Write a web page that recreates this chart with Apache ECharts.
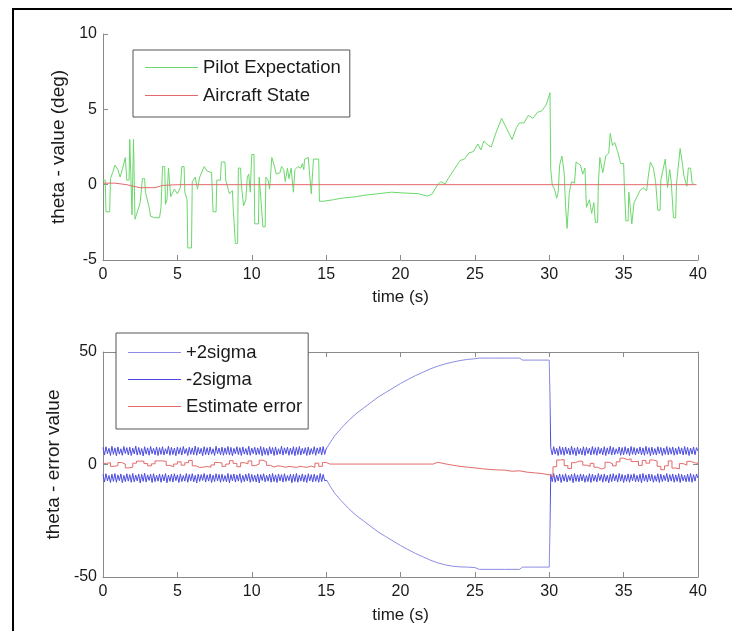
<!DOCTYPE html>
<html>
<head>
<meta charset="utf-8">
<script src="https://cdn.jsdelivr.net/npm/echarts@6/dist/echarts.min.js"></script>
<style>
html, body { margin: 0; padding: 0; background: #fff; }
#chart { width: 732px; height: 631px; }
</style>
</head>
<body>
<div id="chart"></div>
<script>
// ---- top plot: theta value ----
var pilotT = [0, 0.15, 0.2, 0.45, 0.5, 0.65, 0.8, 1.0, 1.15, 1.3, 1.5, 1.6, 1.75, 1.8, 1.9, 1.95, 2.05, 2.12, 2.15, 2.5,
  2.65, 2.8, 2.85, 3.1, 3.2, 3.5, 3.8, 3.9, 4.0, 4.15, 4.2, 4.3, 4.4, 4.5, 4.55, 4.8, 5.0, 5.2, 5.3, 5.45,
  5.5, 5.65, 5.7, 5.95, 6.0, 6.2, 6.35, 6.5, 6.8, 7.0, 7.3, 7.4, 7.6, 7.65, 7.9, 7.95, 8.2, 8.25, 8.5, 8.7,
  8.75, 8.9, 9.05, 9.1, 9.25, 9.3, 9.45, 9.6, 9.7, 9.8, 9.9, 10.0, 10.15, 10.2, 10.45, 10.5, 10.6, 10.75, 10.9, 10.95,
  11.1, 11.2, 11.35, 11.5, 11.6, 11.65, 11.9, 12.0, 12.15, 12.25, 12.4, 12.5, 12.65, 12.8, 12.9, 13.0, 13.1, 13.3, 13.4, 13.5,
  13.55, 13.8, 13.9, 14.0, 14.1, 14.15, 14.5, 14.55, 14.8, 15.5, 16.0, 17.0, 17.6, 18.5, 19.4, 20.2, 21.2, 21.8, 22.1, 22.5,
  22.7, 23.0, 23.2, 23.6, 24.0, 24.3, 24.6, 24.9, 25.2, 25.4, 25.6, 25.9, 26.1, 26.4, 26.8, 27.1, 27.5, 27.8, 28.0, 28.3,
  28.6, 28.9, 29.2, 29.5, 29.8, 30.05, 30.1, 30.2, 30.35, 30.5, 30.6, 30.7, 30.85, 31.0, 31.1, 31.2, 31.35, 31.5, 31.7, 31.8,
  31.95, 32.1, 32.25, 32.4, 32.5, 32.7, 32.85, 33.0, 33.1, 33.25, 33.3, 33.4, 33.6, 33.8, 34.0, 34.1, 34.25, 34.4, 34.6, 34.8,
  35.0, 35.05, 35.15, 35.3, 35.35, 35.55, 35.7, 35.9, 36.1, 36.3, 36.55, 36.65, 36.8, 37.0, 37.15, 37.3, 37.45, 37.5, 37.8, 37.95,
  38.1, 38.2, 38.35, 38.5, 38.55, 38.8, 38.95, 39.05, 39.25, 39.35, 39.5, 39.6, 39.7];
var pilotV = [0.3, 0.3, -1.8, -1.8, 0.4, 0.8, 1.3, 1.0, 0.5, 1.0, 1.8, 0.3, 0.3, 3.0, 3.0, -2.0, 3.0, 3.0, -2.3, -1.2,
  0.4, 0.4, -0.5, -1.5, -2.1, -2.2, -2.2, -1.5, 1.2, 1.2, -1.3, -1.0, 1.1, 1.1, -0.8, -0.3, -0.6, -0.2, 1.2, 1.2,
  -0.5, -1.0, -4.2, -4.2, 0.2, 0.5, -0.3, 0.5, 1.2, 0.9, 0.8, -1.8, -1.8, 0.3, 0.3, 1.5, 1.5, 0.3, -0.6, -0.4,
  -1.5, -3.9, -3.9, 1.1, 1.1, 0.0, -1.4, -1.0, 0.5, 0.7, -0.5, 2.0, 2.0, -2.6, -2.6, 0.5, -0.8, -2.8, -2.8, 0.5,
  0.3, -0.3, 1.8, 1.3, 1.3, 0.7, 0.8, 1.2, 1.0, 0.2, 1.1, 0.4, 1.1, -0.5, 1.0, 0.9, 1.2, 1.1, 1.4, 1.0,
  1.7, 1.8, 1.8, -0.6, -0.6, 1.7, 1.7, -1.1, -1.1, -1.0, -0.9, -0.8, -0.7, -0.6, -0.5, -0.55, -0.6, -0.75, -0.65, 0.0,
  0.2, 0.05, 0.4, 1.0, 1.6, 1.7, 2.1, 2.2, 2.7, 2.3, 2.9, 2.6, 2.5, 3.4, 4.4, 3.8, 3.0, 3.8, 4.1, 4.1,
  4.6, 4.4, 4.8, 4.9, 5.3, 6.1, 1.0, 0.0, -0.3, -0.9, -0.5, 1.3, 1.9, 0.8, -1.5, -2.9, -0.5, 0.2, 0.1, 1.5,
  1.4, 1.3, 0.7, 1.1, -1.5, -1.0, -1.9, -1.2, -2.5, -2.5, 0.0, 1.8, 0.8, 1.9, 2.1, 3.4, 2.6, 2.8, 2.2, 1.4,
  1.4, -0.1, -2.4, -2.4, -0.5, -2.6, -1.2, -0.8, -0.4, -0.2, -0.4, 0.5, 1.5, 1.1, 0.2, -1.7, -1.7, 0.3, 1.7, -0.2,
  1.0, 0.2, -2.2, -2.2, 0.0, 2.4, 1.4, 0.6, -0.1, 1.1, 1.1, 0.1, 0.1];
var aircraftT = [0, 0.8, 1.6, 2.0, 2.5, 3.5, 4.0, 5.0, 39.9];
var aircraftV = [0.1, 0.1, 0.0, -0.1, -0.2, -0.2, -0.05, 0, 0];

// ---- bottom plot: theta error ----
var bandStep = 0.1;   // sampling of the +-2sigma bands
var sigUpA = [ // 0 .. 15 s
  7.6,4.2,7.9,4.8,7.2,4.0,8.1,4.5,7.4,3.9, 7.8,4.6,7.0,4.1,8.0,4.9,7.5,4.3,7.7,4.0,
  7.3,4.7,8.2,4.2,7.6,4.4,7.1,3.8,7.9,4.6, 7.4,4.1,8.0,4.8,7.2,4.3,7.8,4.0,7.5,4.5,
  7.9,4.2,7.0,4.7,8.1,4.1,7.6,4.4,7.3,3.9, 7.8,4.6,7.5,4.2,8.0,4.8,7.1,4.0,7.7,4.5,
  7.4,4.3,8.2,4.1,7.6,4.7,7.2,3.9,7.9,4.4, 7.5,4.2,7.8,4.6,7.0,4.0,8.1,4.8,7.3,4.3,
  7.7,4.1,7.4,4.5,8.0,4.2,7.6,3.9,7.2,4.7, 7.9,4.4,7.5,4.0,7.8,4.6,7.1,4.3,8.1,4.1,
  7.3,4.8,7.7,4.2,7.4,4.5,8.0,3.9,7.6,4.4, 7.2,4.1,7.9,4.7,7.5,4.0,7.8,4.3,7.0,4.6,
  8.1,4.2,7.4,4.8,7.7,4.1,7.3,4.5,7.9,3.9, 7.6,4.4,8.0,4.2,7.2,4.7,7.5,4.0,7.8,4.3,
  7.1,4.6,7.9,4.1,7.4,4.8,7.7,4.2,8.0,4.5, 6.9];
var sigLoA = [
  -4.4,-7.8,-4.1,-7.3,-4.9,-8.0,-4.3,-7.5,-4.0,-7.9, -4.6,-7.2,-4.2,-8.1,-4.8,-7.6,-4.1,-7.4,-4.5,-7.9,
  -4.0,-7.7,-4.7,-7.3,-4.2,-8.2,-4.4,-7.5,-3.9,-7.8, -4.6,-7.1,-4.3,-8.0,-4.1,-7.6,-4.8,-7.4,-4.2,-7.9,
  -4.5,-7.3,-4.0,-8.1,-4.7,-7.5,-4.3,-7.8,-4.1,-7.2, -4.6,-8.0,-4.2,-7.6,-4.9,-7.4,-4.0,-7.9,-4.4,-7.3,
  -4.1,-7.7,-4.8,-8.2,-4.3,-7.5,-4.5,-7.1,-4.0,-7.8, -4.6,-7.4,-4.2,-8.0,-4.7,-7.6,-4.1,-7.3,-4.4,-7.9,
  -4.3,-7.5,-4.9,-7.7,-4.0,-8.1,-4.5,-7.2,-4.2,-7.8, -4.6,-7.4,-4.1,-8.0,-4.8,-7.6,-4.3,-7.3,-4.0,-7.9,
  -4.4,-7.5,-4.7,-7.8,-4.2,-8.2,-4.5,-7.1,-4.1,-7.7, -4.8,-7.4,-4.3,-7.9,-4.0,-7.6,-4.6,-8.0,-4.2,-7.3,
  -4.5,-7.8,-4.1,-7.5,-4.9,-7.2,-4.3,-8.1,-4.4,-7.6, -4.0,-7.9,-4.7,-7.4,-4.2,-7.7,-4.6,-8.0,-4.1,-7.3,
  -4.5,-7.8,-4.3,-7.5,-4.8,-7.9,-4.0,-7.6,-4.4,-7.2, -6.8];
var curveT  = [15.05,15.3,15.6,16,16.5,17,17.5,18,18.5,19, 19.5,20,20.5,21,21.5,22,22.5,23,23.5,24,
  24.5,25,25.3,26,27,28,28.2,29,30,30.05];
var curveUp = [7,10,13,16,19.5,22.5,25,27.5,30,32, 34,36,37.8,39.5,41,42.5,43.7,44.7,45.5,46.2,
  46.7,47,47.3,47.3,47.3,47.3,46.4,46.4,46.4,46.4];
var curveLo = [-7,-10,-13,-16,-19.5,-22.5,-25,-27.5,-30,-32, -34,-36,-37.8,-39.5,-41,-42.5,-43.7,-44.6,-45.2,-45.5,
  -45.6,-45.8,-46.6,-46.6,-46.6,-46.6,-45.6,-45.6,-45.6,-45.6];
var sigUpB = [ // 30.1 .. 40 s
  7.5,4.3,7.9,4.6,7.2,4.0,8.0,4.4,7.6,4.1, 7.8,4.7,7.3,4.2,8.1,4.5,7.4,3.9,7.7,4.6,
  7.1,4.3,7.9,4.0,7.6,4.8,7.3,4.2,8.0,4.5, 7.5,4.1,7.8,4.7,7.2,4.3,7.9,4.0,7.4,4.6,
  8.1,4.2,7.6,4.4,7.0,4.8,7.8,4.1,7.5,4.3, 7.9,4.6,7.3,4.0,8.0,4.5,7.6,4.2,7.2,4.7,
  7.8,4.3,7.4,4.1,8.1,4.6,7.5,3.9,7.7,4.4, 7.1,4.2,7.9,4.8,7.6,4.0,7.3,4.5,8.0,4.3,
  7.5,4.6,7.8,4.1,7.2,4.4,7.9,4.7,7.4,4.2, 8.0,4.5,7.6,4.0,7.3,4.6,7.8,4.3,7.5,6.0];
var sigLoB = [
  -4.3,-7.6,-4.0,-7.9,-4.7,-7.3,-4.2,-8.0,-4.5,-7.4, -4.1,-7.8,-4.8,-7.2,-4.3,-8.1,-4.0,-7.5,-4.6,-7.7,
  -4.2,-7.3,-4.4,-7.9,-4.9,-7.6,-4.1,-8.0,-4.3,-7.4, -4.7,-7.8,-4.0,-7.2,-4.5,-7.9,-4.2,-7.5,-4.8,-8.1,
  -4.3,-7.6,-4.1,-7.3,-4.6,-7.8,-4.0,-7.4,-4.4,-8.0, -4.7,-7.5,-4.2,-7.9,-4.5,-7.2,-4.1,-7.7,-4.8,-7.6,
  -4.3,-8.1,-4.0,-7.4,-4.6,-7.8,-4.2,-7.3,-4.4,-7.9, -4.9,-7.5,-4.1,-8.0,-4.3,-7.6,-4.7,-7.2,-4.0,-7.8,
  -4.5,-7.4,-4.2,-7.9,-4.6,-7.5,-4.1,-8.0,-4.4,-7.3, -4.8,-7.7,-4.3,-7.6,-4.0,-7.9,-4.5,-7.4,-4.2,-6.0];

var errStep = 0.25;
var errA = [ // 0 .. 15 s
  0.5,0.8,-0.8,-0.5,0.9,0.2,-1.5,-1.2,0.6,1.5, 1.5,0.4,-0.6,0.3,1.6,1.6,1.4,-0.4,-1.0,0.2,
  1.2,-0.3,0.8,1.8,-0.6,-1.3,-1.2,-0.9,-1.2,-0.2, 0.9,0.7,-0.8,0.2,1.7,0.5,-1.0,0.8,0.3,1.6,
  -0.5,0.2,1.9,1.2,-0.4,-1.1,-0.6,-0.8,-1.2,-0.9, -1.0,-1.3,-0.8,-1.1,-1.2,-0.7,-1.3,0.6,-0.8,0.9, 0.2];
var errMidT = [15.25,22,22.2,22.5,23,23.5,24,24.5,25,25.5,26,26.5,27,27.5,28,28.5,29,29.5,30];
var errMidV = [0.2,0.2,1.0,0.3,-0.3,-0.8,-1.2,-1.5,-1.9,-2.2,-2.4,-2.5,-3.0,-2.8,-3.4,-3.7,-4.0,-4.6,-5.4];
var errB = [ // 30.25 .. 40 s
  -1.0,2.0,2.2,-0.5,-1.8,0.8,1.5,1.4,-0.3,-0.8, 0.5,-1.2,-2.0,-1.5,1.0,0.4,-0.6,1.2,2.8,2.2,
  2.5,1.3,1.4,-0.4,1.8,0.6,2.0,1.5,-0.8,-2.3, -0.6,1.6,-1.6,-1.9,0.4,-0.3,1.4,0.8,0.5,0.9];

function pairs(ts, vs) {
  return ts.map(function (t, i) { return [t, vs[i]]; });
}
function sampled(t0, dt, vs) {
  return vs.map(function (v, i) { return [Math.round((t0 + i * dt) * 100) / 100, v]; });
}

var font = "'Liberation Sans', Arial, sans-serif";
var axisCol = "#8a8a8a";
var textCol = "#1a1a1a";
var green = "#6bd86b";
var red = "#e46a6a";
var bandBlue = "#4a4ae0";
var curveBlue = "#8c8ce4";

function xAxis(grid, opt) {
  var ax = {
    gridIndex: grid, type: "value", min: 0, max: 40, interval: 5,
    axisLine: { show: true, onZero: false, lineStyle: { color: axisCol, width: 1 } },
    axisTick: { show: true, inside: true, length: 5, lineStyle: { color: axisCol } },
    axisLabel: { color: textCol, fontSize: 16, fontFamily: font, margin: 7 },
    splitLine: { show: false }
  };
  return Object.assign(ax, opt);
}
function yAxis(grid, opt) {
  var ax = {
    gridIndex: grid, type: "value",
    axisLine: { show: true, onZero: false, lineStyle: { color: axisCol, width: 1 } },
    axisTick: { show: true, inside: true, length: 5, lineStyle: { color: axisCol } },
    axisLabel: { color: textCol, fontSize: 16, fontFamily: font, margin: 6 },
    splitLine: { show: false }
  };
  return Object.assign(ax, opt);
}
var xNameStyle = { color: textCol, fontSize: 17, fontFamily: font };
var yNameStyle = { color: textCol, fontSize: 19, fontFamily: font };
var legendText = { color: textCol, fontSize: 18.5, fontFamily: font, lineHeight: 19 };

var chart = echarts.init(document.getElementById("chart"));
chart.setOption({
  backgroundColor: "#fff",
  animation: false,
  grid: [
    { left: 103, right: 34, top: 34, height: 226 },
    { left: 103, right: 34, top: 352, height: 225 }
  ],
  xAxis: [
    xAxis(0, { name: "time (s)", nameLocation: "middle", nameGap: 29, nameTextStyle: xNameStyle }),
    xAxis(1, { name: "time (s)", nameLocation: "middle", nameGap: 30, nameTextStyle: xNameStyle }),
    xAxis(1, { position: "top", axisLabel: { show: false } })
  ],
  yAxis: [
    yAxis(0, { min: -5, max: 10, interval: 5, name: "theta - value (deg)", nameLocation: "middle",
      nameGap: 33, nameTextStyle: yNameStyle }),
    yAxis(1, { min: -50, max: 50, interval: 50, name: "theta - error value", nameLocation: "middle",
      nameGap: 36, nameTextStyle: yNameStyle }),
    yAxis(1, { min: -50, max: 50, interval: 50, position: "right", axisLabel: { show: false } })
  ],
  // the sigma bounds are drawn lighter where they are a smooth curve (15 s - 30 s)
  visualMap: {
    show: false, type: "piecewise", dimension: 0, seriesIndex: [2, 3],
    pieces: [
      { lt: 15.05, color: bandBlue },
      { gte: 15.05, lte: 30.06, color: curveBlue },
      { gt: 30.06, color: bandBlue }
    ]
  },
  legend: [
    {
      data: [
        { name: "Pilot Expectation", itemStyle: { color: green } },
        { name: "Aircraft State", itemStyle: { color: red } }
      ],
      orient: "vertical", left: 133, top: 50, selectedMode: false,
      icon: "rect", padding: [8, 9, 12, 12], itemGap: 9, itemWidth: 53, itemHeight: 1,
      borderColor: "#555", borderWidth: 1, backgroundColor: "#fff",
      textStyle: legendText
    },
    {
      data: [
        { name: "+2sigma", itemStyle: { color: curveBlue } },
        { name: "-2sigma", itemStyle: { color: bandBlue } },
        { name: "Estimate error", itemStyle: { color: red } }
      ],
      orient: "vertical", left: 116, top: 333, selectedMode: false,
      icon: "rect", padding: [10, 6, 13, 12], itemGap: 8, itemWidth: 53, itemHeight: 1,
      borderColor: "#555", borderWidth: 1, backgroundColor: "#fff",
      textStyle: legendText
    }
  ],
  graphic: [
    { type: "line", shape: { x1: 13, y1: 8, x2: 13, y2: 631 }, style: { stroke: "#000", lineWidth: 2 } },
    { type: "line", shape: { x1: 12, y1: 9, x2: 732, y2: 9 }, style: { stroke: "#000", lineWidth: 2 } }
  ],
  series: [
    {
      name: "Pilot Expectation", type: "line", xAxisIndex: 0, yAxisIndex: 0,
      symbol: "none", color: green, lineStyle: { width: 1 },
      data: pairs(pilotT, pilotV)
    },
    {
      name: "Aircraft State", type: "line", xAxisIndex: 0, yAxisIndex: 0,
      symbol: "none", color: red, lineStyle: { width: 1 },
      data: pairs(aircraftT, aircraftV)
    },
    {
      name: "+2sigma", type: "line", xAxisIndex: 1, yAxisIndex: 1,
      symbol: "none", color: curveBlue, lineStyle: { width: 1 },
      data: sampled(0, bandStep, sigUpA).concat(pairs(curveT, curveUp), sampled(30.1, bandStep, sigUpB))
    },
    {
      name: "-2sigma", type: "line", xAxisIndex: 1, yAxisIndex: 1,
      symbol: "none", color: bandBlue, lineStyle: { width: 1 },
      data: sampled(0, bandStep, sigLoA).concat(pairs(curveT, curveLo), sampled(30.1, bandStep, sigLoB))
    },
    {
      name: "Estimate error", type: "line", xAxisIndex: 1, yAxisIndex: 1,
      symbol: "none", step: "end", color: red, lineStyle: { width: 1 },
      data: sampled(0, errStep, errA).concat(pairs(errMidT, errMidV), sampled(30.25, errStep, errB))
    }
  ]
});
</script>
</body>
</html>
